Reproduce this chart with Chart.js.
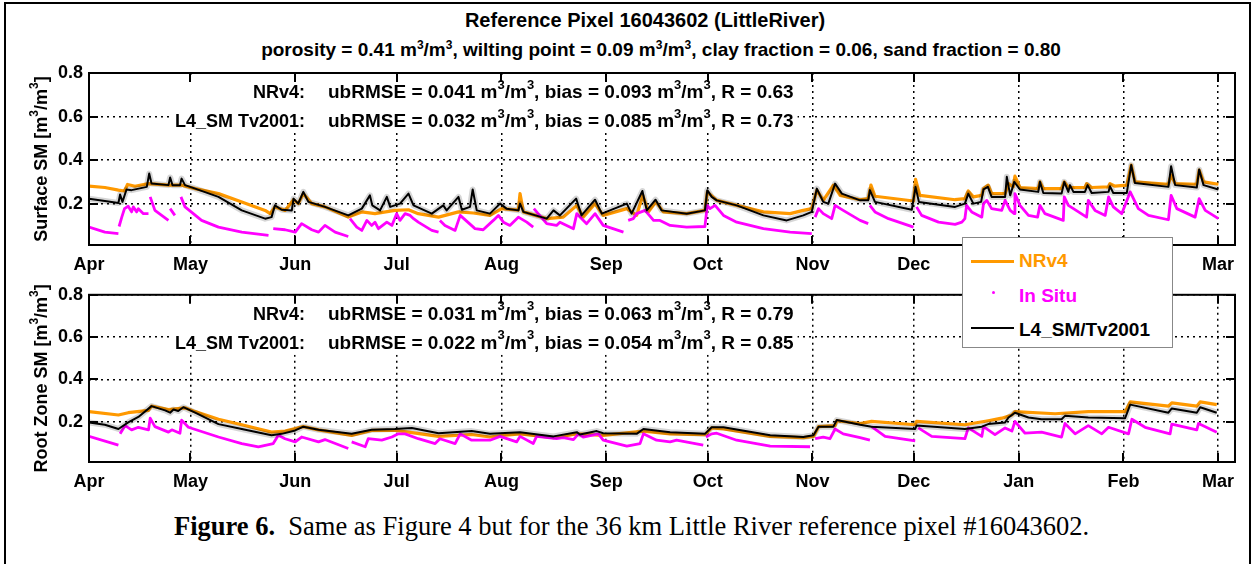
<!DOCTYPE html>
<html>
<head>
<meta charset="utf-8">
<script src="https://cdn.jsdelivr.net/npm/chart.js@4.4.1/dist/chart.umd.min.js"></script>
<style>
  body { margin: 0; background: #fff; width: 1253px; height: 564px; overflow: hidden; position: relative; font-family: "Liberation Sans", Arial, sans-serif; }
  canvas { position: absolute; left: 0; }
  #frame { position: absolute; left: 4px; top: 2px; width: 1243px; height: 620px; border: 2px solid #000; }
  .ttl { position: absolute; transform: translateX(-50%); white-space: nowrap; font-weight: bold; line-height: 22px; }
  .ttl sup { font-size: 12px; vertical-align: 7px; line-height: 0; }
  #legend { position: absolute; left: 962px; top: 237px; width: 209px; height: 109px; border: 1px solid #888; background: #fff; }
  .lg { position: absolute; font-weight: bold; font-size: 19px; line-height: 22px; white-space: nowrap; }
  .sw { position: absolute; }
  #caption { position: absolute; left: 174px; top: 510px; font-family: "Liberation Serif", "Times New Roman", serif; font-size: 26.5px; line-height: 32px; white-space: nowrap; }
</style>
</head>
<body>
<div id="frame"></div>
<div class="ttl" style="left:645px;top:9px;font-size:20px">Reference Pixel 16043602 (LittleRiver)</div>
<div class="ttl" style="left:661px;top:39px;font-size:19px">porosity = 0.41 m<sup>3</sup>/m<sup>3</sup>, wilting point = 0.09 m<sup>3</sup>/m<sup>3</sup>, clay fraction = 0.06, sand fraction = 0.80</div>
<canvas id="top" width="1253" height="278" style="top:0"></canvas>
<canvas id="bottom" width="1253" height="222" style="top:278px"></canvas>
<div id="legend">
  <div class="sw" style="left:8px;top:22px;width:43px;height:3px;background:#ff9900"></div>
  <div class="lg" style="left:56px;top:12px;color:#ff9900">NRv4</div>
  <div class="sw" style="left:29px;top:53px;width:3px;height:3px;background:#ff00ff;border-radius:50%"></div>
  <div class="lg" style="left:56px;top:47px;color:#ff00ff">In Situ</div>
  <div class="sw" style="left:8px;top:89px;width:43px;height:2px;background:#000"></div>
  <div class="lg" style="left:56px;top:81px;color:#000">L4_SM/Tv2001</div>
</div>
<div id="caption"><b>Figure 6.</b>&nbsp; Same as Figure 4 but for the 36 km Little River reference pixel #16043602.</div>

<script>
// days counted from 1 April
const monthDays = [0, 30, 61, 91, 122, 153, 183, 214, 244, 275, 306, 334];
const monthLabels = ["Apr", "May", "Jun", "Jul", "Aug", "Sep", "Oct", "Nov", "Dec", "Jan", "Feb", "Mar"];
const yTicks = [0.2, 0.4, 0.6, 0.8];

const surfStats = [
  ["NRv4:", "ubRMSE = 0.041 m^3/m^3, bias = 0.093 m^3/m^3, R = 0.63"],
  ["L4_SM Tv2001:", "ubRMSE = 0.032 m^3/m^3, bias = 0.085 m^3/m^3, R = 0.73"]
];
const rootStats = [
  ["NRv4:", "ubRMSE = 0.031 m^3/m^3, bias = 0.063 m^3/m^3, R = 0.79"],
  ["L4_SM Tv2001:", "ubRMSE = 0.022 m^3/m^3, bias = 0.054 m^3/m^3, R = 0.85"]
];

// surface soil moisture [day, m3/m3]
const surfNRv4 = [[0,.280],[4.7,.274],[8.7,.262],[10.5,.258],[11.4,.288],[13.6,.280],[17.6,.292],[23.5,.285],[27.4,.285],[31.4,.269],[38.3,.246],[45.2,.208],[52.1,.169],[53.6,.154],[55,.185],[58,.169],[60.5,.218],[61.9,.200],[63.4,.246],[65.9,.200],[69.8,.185],[76.7,.138],[80.7,.162],[84.6,.154],[90.5,.169],[94.5,.172],[97.4,.154],[103.4,.138],[109.3,.162],[113.7,.157],
  [118.6,.146],[122.1,.177],[127.0,.170],[127.5,.246],[128.5,.162],[135.4,.131],[140.3,.138],[144.3,.192],[146.2,.138],[149.7,.200],[152.1,.146],[159.1,.177],[162.0,.146],[163.8,.238],[165.5,.162],[167.7,.208],[169.9,.162],[176.8,.154],[182.2,.169],[182.9,.254],[185.7,.215],[191.6,.192],[199.5,.162],[207.4,.154],[211.3,.169],[213.8,.177],[215.3,.262],[217.2,.215],[220.2,.285],[222.2,.238],[228.1,.218],
  [230.5,.223],[231.3,.285],[232.5,.234],[243.9,.212],[244.5,.311],[245.8,.238],[256.2,.218],[259.1,.223],[260.1,.258],[261.6,.231],[264.1,.238],[264.6,.269],[266.0,.285],[267.0,.246],[271.0,.246],[272.0,.292],[273.4,.277],[273.9,.326],[275.4,.274],[280.8,.269],[281.3,.300],[282.3,.269],[287.7,.269],[288.5,.300],[289.7,.274],[294.6,.274],[295.1,.292],[296.6,.274],[301.6,.277],[302.0,.292],[303.5,.280],[307.0,.285],[308.3,.377],[309.4,.300],[319.3,.289],[320.1,.331],[321.3,.292],[327.7,.289],[328.4,.354],[329.7,.300],[334.1,.289]];

const surfL4 = [[0,.223],[4.7,.212],[8.7,.203],[9.2,.242],[9.9,.208],[11.1,.265],[12.6,.262],[17.1,.277],[17.8,.338],[18.5,.292],[23.5,.285],[24.0,.320],[24.7,.285],[26.9,.285],[27.4,.315],[28.4,.285],[31.4,.269],[38.3,.231],[45.2,.169],[52.1,.131],[54.0,.138],[55.0,.192],[57.0,.172],[60.0,.169],[60.5,.223],[61.9,.200],[63.4,.254],[64.9,.208],[69.8,.185],[76.7,.146],[80.7,.177],[83.1,.238],[83.8,.192],[86.1,.169],[88.1,.231],[89.1,.185],[92.0,.200],[94.5,.246],[96.0,.192],[101.4,.154],[104.8,.192],[105.8,.169],[109.3,.231],[110.3,.172],
  [112.7,.185],[113.5,.265],[114.7,.169],[118.6,.154],[121.6,.200],[123.5,.177],[127.0,.169],[127.5,.200],[128.5,.162],[135.4,.131],[137.4,.169],[139.3,.146],[144.1,.223],[145.7,.146],[149.7,.218],[151.7,.154],[159.1,.200],[160.5,.154],[163.7,.258],[165.0,.169],[167.6,.218],[169.4,.169],[176.8,.154],[182.2,.169],[182.9,.262],[184.2,.231],[185.7,.215],[191.6,.192],[199.5,.146],[206.4,.123],[211.3,.146],[213.8,.162],[215.3,.269],[217.2,.208],[218.7,.200],[220.7,.292],[222.7,.246],[228.1,.215],
  [230.5,.215],[231.0,.262],[232.5,.208],[243.4,.172],[244.5,.277],[245.5,.208],[256.2,.185],[259.1,.200],[260.1,.246],[261.6,.200],[263.9,.208],[264.6,.265],[265.9,.277],[267.0,.231],[271.0,.231],[271.5,.323],[272.5,.238],[273.7,.300],[275.4,.265],[280.8,.254],[281.3,.300],[282.3,.249],[287.7,.246],[288.5,.300],[289.7,.254],[290.2,.285],[291.2,.254],[294.6,.254],[295.4,.285],[296.6,.249],[301.6,.254],[302.0,.280],[303.0,.249],[307.0,.249],[308.3,.377],[309.4,.295],[319.3,.277],[320.1,.372],[321.3,.285],[327.7,.274],[328.4,.357],[329.7,.285],[334.1,.265]];

const surfInSitu = [[0,.092],[4.7,.069],[8.7,.062],[8.8,null],[8.9,.095],[9.7,.138],[10.5,.177],[11.6,.188],[12.6,.162],[13.1,.185],[14.1,.162],[14.6,.177],[16.1,.154],[17.6,.154],[17.7,null],[18.1,.231],[19.5,.169],[23.5,.123],[23.7,null],[24.0,.177],[25.4,.146],[25.5,null],[27.2,.231],[28.4,.185],[33.3,.123],[38.3,.092],[45.2,.069],[53.1,.054],[53.8,null],[54.5,.085],[58.0,.080],[61.0,.069],[62.9,.108],[65.9,.080],[67.9,.069],[69.8,.100],[72.8,.069],[76.7,.049],[77.0,null],[77.2,.131],[79.2,.092],[80.7,.077],[82.2,.123],[83.6,.100],[84.6,.115],[85.6,.085],[88.1,.115],[89.6,.100],[91.0,.154],[92.0,.123],[93.5,.154],[95.0,.146],[96.0,.131],[97.4,.115],[101.4,.077],[103.4,.069],[103.6,null],[103.8,.123],[105.3,.100],[108.3,.077],[109.8,.146],[113.7,.092],
  [114.2,.085],[116.6,.080],[119.6,.123],[121.1,.146],[122.6,.115],[124.5,.100],[127.0,.138],[129.5,.115],[131.4,.092],[131.5,null],[131.6,.177],[135.4,.108],[138.3,.100],[139.3,.115],[143.3,.085],[144.3,.154],[147.2,.108],[149.7,.154],[152.1,.100],[158.1,.069],[158.3,null],[159.5,.123],[161.0,.131],[162.0,.154],[164.5,.169],[167.0,.123],[168.9,.123],[171.9,.100],[176.8,.092],[182.2,.095],[182.9,.192],[183.7,.177],[185.2,.192],[187.7,.146],[191.6,.115],[199.5,.085],[207.4,.069],[213.8,.062],[214.3,null],[214.8,.138],[215.8,.177],[217.2,.154],[219.7,.131],[220.7,.192],[223.1,.169],[228.1,.123],
  [230.5,.108],[230.8,null],[231.0,.192],[232.5,.162],[236.5,.131],[243.9,.092],[244.3,null],[244.8,.185],[246.3,.146],[251.3,.115],[256.2,.105],[258.2,.115],[259.1,.131],[259.6,.192],[261.1,.162],[264.1,.138],[264.6,.200],[265.6,.215],[267.0,.177],[270.0,.169],[271.0,.215],[272.5,.169],[273.7,.154],[273.9,.246],[275.4,.192],[277.9,.146],[280.6,.138],[281.3,.192],[282.8,.154],[288.2,.123],[288.5,.231],[289.7,.192],[292.7,.162],[295.1,.138],[295.6,.215],[297.6,.169],[300.6,.146],[301.6,.231],[303.0,.185],[305.5,.154],[308.0,.254],[310.4,.177],[313.4,.146],[319.3,.126],[320.1,.238],[321.8,.177],[327.2,.138],[328.4,.223],[330.2,.169],[334.1,.131]];

// root zone soil moisture [day, m3/m3]
const rootNRv4 = [[0,.248],[8.7,.232],[11.6,.243],[17.6,.254],[18.5,.274],[23.5,.258],[28.4,.266],[31.4,.248],[38.3,.212],[45.2,.186],[54.0,.151],[58.0,.156],[63.4,.177],[67.9,.162],[77.7,.136],[83.6,.159],[90.5,.159],[94.5,.151],[103.4,.131],[113.2,.140],[118.6,.128],[122.6,.136],[127.5,.143],[137.4,.125],[144.3,.143],[152.1,.136],[164.0,.156],[171.9,.143],[182.2,.139],[184.2,.171],[187.7,.166],[201.5,.131],[211.3,.125],[214.3,.131],[215.8,.177],[220.7,.182],[221.2,.205],[228.1,.192],[231.5,.202],[244.4,.186],[244.8,.202],[259.1,.186],[266.0,.205],[270.0,.217],[273.0,.232],[273.9,.248],[285.8,.238],[295.6,.248],[306.5,.248],[308.0,.294],[319.3,.274],[320.3,.289],[327.7,.274],[328.7,.294],[333.6,.281]];

const rootL4 = [[0,.197],[4.7,.186],[8.7,.166],[11.6,.197],[14.6,.223],[18.5,.274],[22.5,.254],[24.0,.243],[25.0,.258],[26.4,.251],[27.9,.269],[31.4,.243],[38.3,.189],[45.2,.166],[54.0,.136],[57.0,.143],[61.0,.159],[63.4,.177],[67.9,.162],[77.7,.143],[83.6,.162],[90.5,.166],[95.5,.171],[103.4,.146],[113.2,.156],[118.6,.143],[127.5,.151],[137.4,.131],[144.3,.151],[145.2,.140],[150.2,.156],[152.1,.146],[162.0,.143],[164.0,.166],[171.9,.151],[182.2,.143],[184.2,.174],[187.7,.174],[201.5,.136],[211.3,.128],[214.3,.136],[215.8,.177],[220.2,.177],[221.2,.208],[228.1,.186],[231.5,.177],[244.4,.166],[244.8,.182],[259.1,.166],[264.1,.177],[266.0,.189],[271.0,.197],[272.0,.220],[273.9,.243],[277.9,.220],[281.8,.212],[287.7,.212],[288.7,.228],[295.6,.220],[306.5,.217],[308.0,.281],[319.3,.243],[320.3,.263],[327.7,.243],[328.7,.269],[333.6,.243]];

const rootInSitu = [[0,.131],[8.7,.090],[9.0,null],[9.2,.143],[10.7,.182],[12.6,.162],[14.6,.174],[17.6,.162],[18.1,.217],[19.5,.177],[23.5,.151],[24.5,.162],[26.9,.146],[27.4,.208],[29.4,.174],[38.3,.128],[45.2,.097],[50.1,.082],[54.5,.097],[56.0,.136],[58.0,.120],[61.0,.105],[62.9,.128],[67.9,.105],[69.8,.116],[76.7,.074],[77.2,null],[77.7,.105],[81.7,.082],[82.6,.120],[86.6,.113],[89.6,.128],[91.5,.143],[93.5,.143],[97.4,.120],[102.4,.097],[103.8,.120],[108.3,.097],[109.8,.143],[113.2,.113],
  [118.6,.113],[121.6,.131],[126.5,.105],[127.5,.131],[131.4,.097],[132.4,.131],[138.3,.120],[140.3,.125],[143.3,.116],[144.8,.143],[146.2,.128],[150.7,.143],[152.1,.113],[159.1,.085],[163.0,.097],[164.0,.143],[167.9,.113],[171.9,.105],[173.8,.113],[181.7,.090],[182.2,null],[182.5,.128],[184.2,.143],[185.7,.146],[191.6,.113],[201.5,.085],[213.3,.082],[213.9,null],[214.8,.120],[217.2,.128],[219.2,.120],[220.7,.166],[223.1,.143],[228.1,.125],
  [231.0,.113],[231.2,null],[231.5,.177],[235.5,.131],[244.4,.110],[244.7,null],[245.3,.171],[249.3,.131],[259.1,.120],[260.1,.171],[264.1,.131],[264.6,.177],[268.0,.139],[271.0,.171],[273.0,.156],[273.9,.202],[276.9,.146],[281.8,.151],[287.7,.128],[288.7,.192],[291.7,.143],[295.6,.182],[299.6,.143],[301.6,.174],[307.5,.143],[308.5,.212],[312.4,.174],[319.8,.143],[320.3,.189],[327.7,.162],[328.2,.192],[333.6,.151]];

const FONT = '"Liberation Sans", Arial, sans-serif';

// text with ^3 style superscripts
function drawRich(ctx, str, x, y, align, size) {
  const parts = str.split(/(\^\d)/).filter(s => s).map(s => s[0] === '^' ? { t: s.slice(1), sup: true } : { t: s, sup: false });
  const big = `bold ${size}px ${FONT}`;
  const small = `bold ${Math.round(size * 0.68)}px ${FONT}`;
  let w = 0;
  parts.forEach(p => { ctx.font = p.sup ? small : big; p.w = ctx.measureText(p.t).width; w += p.w; });
  let cx = align === 'right' ? x - w : align === 'center' ? x - w / 2 : x;
  ctx.textAlign = 'left';
  ctx.textBaseline = 'middle';
  parts.forEach(p => {
    ctx.font = p.sup ? small : big;
    ctx.fillText(p.t, cx, p.sup ? y - size * 0.42 : y);
    cx += p.w;
  });
  return w;
}

const decorPlugin = {
  id: 'decor',
  beforeDatasetsDraw(chart, args, opts) {
    const { ctx, chartArea: a } = chart;
    ctx.save();
    const labX = a.left + 216, valX = a.left + 239;
    ctx.font = `bold 18px ${FONT}`;
    const lw = ctx.measureText(opts.stats[1][0]).width;
    ctx.globalAlpha = 0;
    const vw = drawRich(ctx, opts.stats[1][1], valX, -100, 'left', 19);
    ctx.globalAlpha = 1;
    ctx.fillStyle = '#fff';
    ctx.fillRect(labX - lw - 4, a.top + 2, vw + lw + 31, 58);
    ctx.fillStyle = '#000';
    opts.stats.forEach((row, i) => {
      const yy = a.top + 20 + i * 29;
      drawRich(ctx, row[0], labX, yy, 'right', 18);
      drawRich(ctx, row[1], valX, yy, 'left', 19);
    });
    ctx.restore();
  },
  afterDraw(chart, args, opts) {
    const { ctx, chartArea: a, scales: { x, y } } = chart;
    ctx.save();
    ctx.strokeStyle = '#000';
    ctx.lineWidth = 2;
    ctx.beginPath();
    monthDays.forEach(d => {
      const px = Math.round(x.getPixelForValue(d));
      ctx.moveTo(px, a.bottom); ctx.lineTo(px, a.bottom - 9);
      ctx.moveTo(px, a.top); ctx.lineTo(px, a.top + 9);
    });
    yTicks.forEach(v => {
      const py = Math.round(y.getPixelForValue(v));
      ctx.moveTo(a.left, py); ctx.lineTo(a.left + 9, py);
      ctx.moveTo(a.right, py); ctx.lineTo(a.right - 9, py);
    });
    ctx.stroke();
    ctx.strokeRect(a.left, a.top, a.right - a.left, a.bottom - a.top);
    // y axis title
    ctx.fillStyle = '#000';
    ctx.translate(42, (a.top + a.bottom) / 2);
    ctx.rotate(-Math.PI / 2);
    drawRich(ctx, opts.yTitle, 0, 0, 'center', 18);
    ctx.restore();
  }
};

function makeChart(id, nr, situ, l4, yTitle, stats, pad) {
  const pts = arr => arr.map(p => ({ x: p[0], y: p[1] }));
  return new Chart(document.getElementById(id), {
    type: 'line',
    data: {
      datasets: [
        { label: 'L4_SM/Tv2001', data: pts(l4), borderColor: '#000', borderWidth: 2, order: 0 },
        { label: 'spread', data: pts(l4), borderColor: 'rgba(0,0,0,0.16)', borderWidth: 6, order: 1 },
        { label: 'In Situ', data: pts(situ), borderColor: '#ff00ff', borderWidth: 2.8, order: 2, spanGaps: false },
        { label: 'NRv4', data: pts(nr), borderColor: '#ff9900', borderWidth: 3.2, order: 3 }
      ]
    },
    options: {
      responsive: false,
      devicePixelRatio: 1,
      animation: false,
      events: [],
      layout: { padding: pad },
      elements: { point: { radius: 0 }, line: { tension: 0, borderJoinStyle: 'round' } },
      plugins: {
        legend: { display: false },
        tooltip: { enabled: false },
        decor: { yTitle, stats }
      },
      scales: {
        x: {
          type: 'linear', min: 0, max: 339,
          afterBuildTicks: s => { s.ticks = monthDays.map(v => ({ value: v })); },
          afterFit: s => { s.height = 30; },
          ticks: { callback: (v, i) => monthLabels[i], autoSkip: false, maxRotation: 0, padding: 9, color: '#000', font: { family: FONT, size: 18, weight: 'bold' } },
          grid: { color: '#000', lineWidth: 1.5, drawTicks: false },
          border: { display: false, dash: [2, 4] }
        },
        y: {
          min: 0.01, max: 0.8,
          afterBuildTicks: s => { s.ticks = yTicks.map(v => ({ value: v })); },
          afterFit: s => { s.width = 40; },
          ticks: { callback: v => v.toFixed(1), padding: 6, color: '#000', font: { family: FONT, size: 18, weight: 'bold' } },
          grid: { color: '#000', lineWidth: 1.5, drawTicks: false },
          border: { display: false, dash: [2, 4] }
        }
      }
    },
    plugins: [decorPlugin]
  });
}

makeChart('top', surfNRv4, surfInSitu, surfL4, 'Surface SM [m^3/m^3]', surfStats, { left: 49, top: 73, right: 18, bottom: 3 });
makeChart('bottom', rootNRv4, rootInSitu, rootL4, 'Root Zone SM [m^3/m^3]', rootStats, { left: 49, top: 12, right: 18, bottom: 8 });
</script>
</body>
</html>
